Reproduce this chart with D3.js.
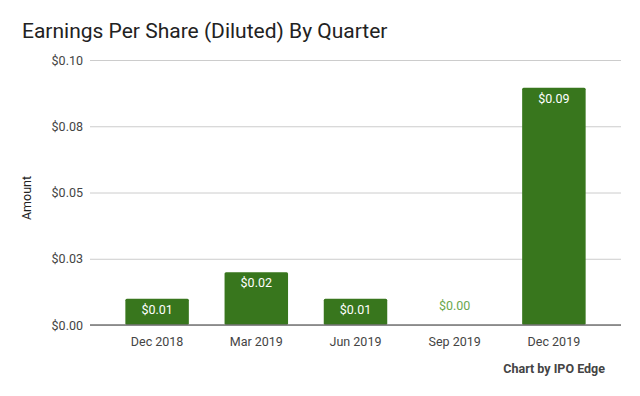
<!DOCTYPE html>
<html>
<head>
<meta charset="utf-8">
<script src="https://cdn.jsdelivr.net/npm/d3@7"></script>
<style>
  body { margin: 0; background: #fff; }
  text { font-family: Roboto, "Noto Sans", sans-serif; }
</style>
</head>
<body>
<div id="chart"></div>
<script>
// chart data
var quarters = ["Dec 2018", "Mar 2019", "Jun 2019", "Sep 2019", "Dec 2019"];
var eps = [0.0099, 0.0199, 0.0099, 0, 0.0895];
var yTicks = [0, 0.025, 0.05, 0.075, 0.1];
var yTickLabels = ["$0.00", "$0.03", "$0.05", "$0.08", "$0.10"];

var width = 640, height = 396;

var svg = d3
  .select("#chart")
  .append("svg")
  .attr("width", width)
  .attr("height", height);

// scales
var y = d3.scaleLinear().domain([0, 0.1]).range([325, 60]);
var x = d3.scaleBand()
  .domain(quarters)
  .range([107.5, 603.5])
  .paddingInner(0.36)
  .paddingOuter(0.18);

// title
svg.append("text")
  .attr("x", 22)
  .attr("y", 38)
  .attr("font-size", 21)
  .attr("fill", "#222")
  .text("Earnings Per Share (Diluted) By Quarter");

// gridlines + y labels
var yAxis = d3.axisLeft(y)
  .tickValues(yTicks)
  .tickSize(-(621 - 90))
  .tickPadding(7)
  .tickFormat(function (d, i) { return yTickLabels[i]; });

var gy = svg.append("g")
  .attr("transform", "translate(90,0)")
  .call(yAxis);
gy.select(".domain").remove();
gy.selectAll("line").attr("stroke", "#cccccc");
gy.selectAll("text")
  .attr("font-size", 12.5)
  .attr("fill", "#444")
  .style("font-family", "Roboto, sans-serif");

// y title
svg.append("text")
  .attr("transform", "translate(31,198)rotate(-90)")
  .attr("text-anchor", "middle")
  .attr("font-size", 12.5)
  .attr("fill", "#222")
  .text("Amount");

// bars
svg.selectAll("rect.bar")
  .data(eps)
  .enter()
  .append("rect")
  .attr("class", "bar")
  .attr("x", function (d, i) { return x(quarters[i]); })
  .attr("y", function (d) { return y(d); })
  .attr("width", x.bandwidth())
  .attr("height", function (d) { return y(0) - y(d); })
  .attr("rx", 1.5)
  .attr("fill", "#38761d");

// bar labels
svg.selectAll("text.val")
  .data(eps)
  .enter()
  .append("text")
  .attr("class", "val")
  .attr("x", function (d, i) { return x(quarters[i]) + x.bandwidth() / 2; })
  .attr("y", function (d) { return d > 0.005 ? y(d) + 15 : y(d) - 15; })
  .attr("text-anchor", "middle")
  .attr("font-size", 12.5)
  .attr("fill", function (d) { return d > 0.005 ? "#ffffff" : "#6aa84f"; })
  .text(function (d) { return "$" + d.toFixed(2); });

// x axis
var xAxis = d3.axisBottom(x).tickSize(0).tickPadding(12);
var gx = svg.append("g")
  .attr("transform", "translate(0,325)")
  .call(xAxis);
gx.select(".domain").remove();
gx.selectAll("text")
  .attr("font-size", 12.5)
  .attr("fill", "#444")
  .style("font-family", "Roboto, sans-serif");

// baseline
svg.append("line")
  .attr("x1", 90)
  .attr("x2", 621)
  .attr("y1", y(0))
  .attr("y2", y(0))
  .attr("stroke", "#757575")
  .attr("stroke-width", 1.5);

// credit
svg.append("text")
  .attr("x", 605)
  .attr("y", 373)
  .attr("text-anchor", "end")
  .attr("font-size", 12.5)
  .attr("font-weight", "bold")
  .attr("fill", "#444")
  .text("Chart by IPO Edge");
</script>
</body>
</html>
